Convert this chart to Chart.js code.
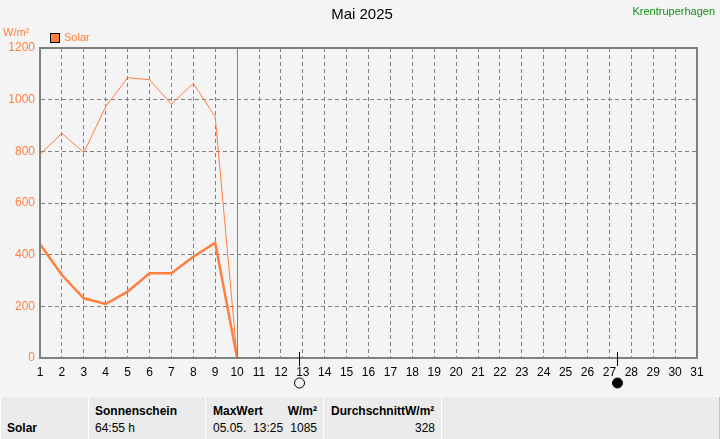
<!DOCTYPE html>
<html>
<head>
<meta charset="utf-8">
<script src="https://cdn.jsdelivr.net/npm/chart.js@4/dist/chart.umd.min.js"></script>
<style>
  body { margin: 0; background: #f4f4f4; font-family: "Liberation Sans", Arial, sans-serif; }
  #wrap { position: relative; width: 720px; height: 397px; }
  #table { position: absolute; left: 0; top: 397px; width: 720px; height: 42px; background: #ebebeb; font-size: 12px; color: #000; }
  .cell { position: absolute; top: 0; height: 42px; border-left: 1px solid #fff; border-right: 1px solid #c4c4c4; box-sizing: border-box; }
  .t { position: absolute; white-space: nowrap; }
  .b { font-weight: bold; }
</style>
</head>
<body>
<div id="wrap"><canvas id="chart" width="720" height="397"></canvas></div>
<div id="table">
  <div class="cell" style="left:0;width:89px"><span class="t b" style="left:6px;top:24px">Solar</span></div>
  <div class="cell" style="left:88px;width:118px">
    <span class="t b" style="left:6px;top:7px">Sonnenschein</span>
    <span class="t" style="left:6px;top:24px">64:55 h</span>
  </div>
  <div class="cell" style="left:205px;width:119px">
    <span class="t b" style="left:7px;top:7px">MaxWert</span>
    <span class="t b" style="right:6px;top:7px">W/m²</span>
    <span class="t" style="left:7px;top:24px">05.05.&nbsp;&nbsp;13:25</span>
    <span class="t" style="right:6px;top:24px">1085</span>
  </div>
  <div class="cell" style="left:323px;width:119px">
    <span class="t b" style="left:7px;top:7px">DurchschnittW/m²</span>
    <span class="t" style="right:6px;top:24px">328</span>
  </div>
  <div class="cell" style="left:441px;width:279px"></div>
</div>
<script>
const days = [1, 2, 3, 4, 5, 6, 7, 8, 9, 10];
const maxSolar = [788, 870, 795, 973, 1085, 1077, 983, 1063, 934, 0];
const avgSolar = [440, 321, 231, 209, 257, 328, 328, 392, 446, 0];
const today = 10;
const fullMoon = 12.84;
const newMoon = 27.36;
const orange = '#ff7f3f';
const gray = '#808080';

const maxPoints = days.map((d, i) => ({x: d, y: maxSolar[i]}));
const avgPoints = days.map((d, i) => ({x: d, y: avgSolar[i]}));

const extras = {
    id: 'extras',
    afterDraw(chart) {
        const ctx = chart.ctx;
        const a = chart.chartArea;
        const xs = chart.scales.x;
        ctx.save();
        ctx.setLineDash([]);

        // today line
        const tx = Math.round(xs.getPixelForValue(today)) + 0.5;
        ctx.strokeStyle = gray;
        ctx.lineWidth = 1;
        ctx.beginPath();
        ctx.moveTo(tx, a.top);
        ctx.lineTo(tx, a.bottom);
        ctx.stroke();

        // frame
        ctx.lineWidth = 2;
        ctx.strokeRect(a.left, a.top, a.right - a.left, a.bottom - a.top);

        // moon phases
        [[fullMoon, false], [newMoon, true]].forEach(([d, filled]) => {
            const mx = Math.round(xs.getPixelForValue(d)) + 0.5;
            ctx.strokeStyle = '#000';
            ctx.lineWidth = 1;
            ctx.beginPath();
            ctx.moveTo(mx, a.bottom - 6);
            ctx.lineTo(mx, a.bottom + 8);
            ctx.stroke();
            ctx.beginPath();
            ctx.arc(mx, a.bottom + 25, 5, 0, Math.PI * 2);
            ctx.fillStyle = filled ? '#000' : '#f4f4f4';
            ctx.fill();
            ctx.stroke();
        });

        // texts
        ctx.textBaseline = 'middle';
        ctx.fillStyle = '#000';
        ctx.font = '15px "Liberation Sans", Arial, sans-serif';
        ctx.textAlign = 'center';
        ctx.fillText('Mai 2025', 362, 15);

        ctx.font = '11px "Liberation Sans", Arial, sans-serif';
        ctx.textAlign = 'right';
        ctx.fillStyle = '#109010';
        ctx.fillText('Krentruperhagen', 715, 12);

        ctx.textAlign = 'left';
        ctx.fillStyle = orange;
        ctx.fillText('W/m²', 3, 33);
        ctx.fillText('Solar', 64, 38);

        ctx.fillStyle = orange;
        ctx.fillRect(50, 33, 9, 9);
        ctx.strokeStyle = '#000';
        ctx.lineWidth = 1;
        ctx.strokeRect(50.5, 33.5, 9, 9);
        ctx.restore();
    }
};

new Chart(document.getElementById('chart'), {
    type: 'line',
    data: {
        datasets: [{
            label: 'Solar max',
            data: maxPoints,
            borderColor: orange,
            borderWidth: 1,
            pointRadius: 0,
            tension: 0
        }, {
            label: 'Solar',
            data: avgPoints,
            borderColor: orange,
            borderWidth: 2.5,
            pointRadius: 0,
            tension: 0
        }]
    },
    options: {
        responsive: false,
        animation: false,
        layout: { padding: { top: 48, right: 23, left: 0, bottom: 0 } },
        plugins: { legend: { display: false }, tooltip: { enabled: false } },
        scales: {
            x: {
                type: 'linear',
                min: 1,
                max: 31,
                afterFit(scale) { scale.height = 39; },
                ticks: {
                    stepSize: 1,
                    color: '#000',
                    padding: 7,
                    maxRotation: 0,
                    autoSkip: false,
                    font: { size: 12, family: '"Liberation Sans", Arial, sans-serif' }
                },
                grid: { color: gray, lineWidth: 1, drawTicks: false },
                border: { display: true, color: gray, width: 2, dash: [4, 3] }
            },
            y: {
                min: 0,
                max: 1200,
                afterFit(scale) { scale.width = 40; },
                ticks: {
                    stepSize: 200,
                    color: orange,
                    padding: 5,
                    callback: v => String(v),
                    font: { size: 12, family: '"Liberation Sans", Arial, sans-serif' }
                },
                grid: { color: gray, lineWidth: 1, drawTicks: false },
                border: { display: true, color: gray, width: 2, dash: [4, 3] }
            }
        }
    },
    plugins: [extras]
});
</script>
</body>
</html>
